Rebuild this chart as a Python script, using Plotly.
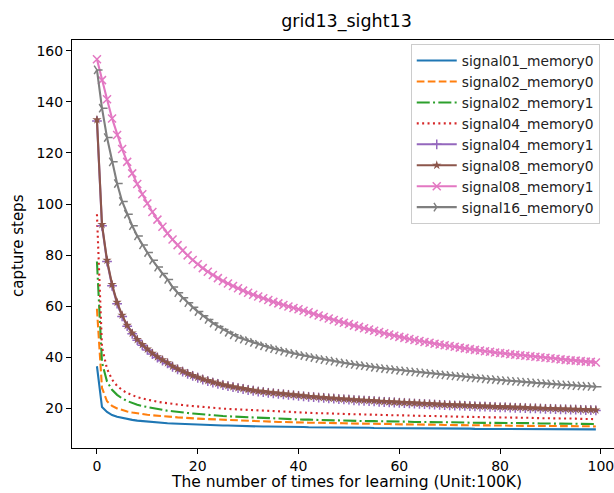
import plotly.graph_objects as go

steps = list(range(100))

series_names = ["signal01_memory0", "signal02_memory0", "signal02_memory1", "signal04_memory0",
                "signal04_memory1", "signal08_memory0", "signal08_memory1", "signal16_memory0"]

signal01_memory0 = [
    36.5, 20.5, 18.6, 17.4, 16.7, 16.2, 15.8, 15.5, 15.2, 15.0,
    14.8, 14.6, 14.5, 14.3, 14.2, 14.1, 14.0, 13.9, 13.8, 13.7,
    13.6, 13.6, 13.5, 13.4, 13.4, 13.3, 13.3, 13.2, 13.2, 13.1,
    13.1, 13.0, 13.0, 12.9, 12.9, 12.9, 12.8, 12.8, 12.8, 12.7,
    12.7, 12.7, 12.6, 12.6, 12.6, 12.6, 12.5, 12.5, 12.5, 12.5,
    12.4, 12.4, 12.4, 12.4, 12.4, 12.3, 12.3, 12.3, 12.3, 12.3,
    12.2, 12.2, 12.2, 12.2, 12.2, 12.2, 12.2, 12.1, 12.1, 12.1,
    12.1, 12.1, 12.1, 12.1, 12.1, 12.0, 12.0, 12.0, 12.0, 12.0,
    12.0, 12.0, 12.0, 12.0, 11.9, 11.9, 11.9, 11.9, 11.9, 11.9,
    11.9, 11.9, 11.9, 11.8, 11.8, 11.8, 11.8, 11.8, 11.8, 11.8]

signal02_memory0 = [
    59.0, 28.0, 22.8, 21.0, 20.0, 19.3, 18.8, 18.4, 18.0, 17.7,
    17.5, 17.3, 17.1, 16.9, 16.8, 16.6, 16.5, 16.4, 16.2, 16.1,
    16.0, 15.9, 15.8, 15.7, 15.6, 15.5, 15.4, 15.3, 15.2, 15.1,
    15.0, 15.0, 14.9, 14.9, 14.8, 14.8, 14.7, 14.7, 14.6, 14.6,
    14.5, 14.5, 14.4, 14.4, 14.4, 14.3, 14.3, 14.2, 14.2, 14.2,
    14.1, 14.1, 14.1, 14.0, 14.0, 14.0, 13.9, 13.9, 13.9, 13.8,
    13.8, 13.8, 13.7, 13.7, 13.7, 13.7, 13.6, 13.6, 13.6, 13.5,
    13.5, 13.5, 13.5, 13.4, 13.4, 13.4, 13.4, 13.3, 13.3, 13.3,
    13.3, 13.3, 13.2, 13.2, 13.2, 13.2, 13.2, 13.1, 13.1, 13.1,
    13.1, 13.1, 13.1, 13.0, 13.0, 13.0, 13.0, 13.0, 13.0, 12.9]

signal02_memory1 = [
    77.5, 38.0, 30.5, 27.3, 25.3, 23.9, 22.9, 22.1, 21.4, 20.9,
    20.5, 20.1, 19.7, 19.4, 19.1, 18.9, 18.6, 18.4, 18.2, 18.0,
    17.8, 17.6, 17.5, 17.3, 17.2, 17.0, 16.9, 16.8, 16.7, 16.6,
    16.5, 16.4, 16.3, 16.2, 16.1, 16.0, 16.0, 15.9, 15.8, 15.8,
    15.7, 15.6, 15.6, 15.5, 15.5, 15.4, 15.4, 15.3, 15.3, 15.2,
    15.2, 15.2, 15.1, 15.1, 15.0, 15.0, 15.0, 14.9, 14.9, 14.9,
    14.8, 14.8, 14.8, 14.7, 14.7, 14.7, 14.7, 14.6, 14.6, 14.6,
    14.5, 14.5, 14.5, 14.5, 14.4, 14.4, 14.4, 14.4, 14.3, 14.3,
    14.3, 14.3, 14.3, 14.2, 14.2, 14.2, 14.2, 14.2, 14.1, 14.1,
    14.1, 14.1, 14.1, 14.0, 14.0, 14.0, 14.0, 14.0, 13.9, 13.9]

signal04_memory0 = [
    96.0, 44.0, 35.5, 31.3, 28.8, 27.2, 26.0, 25.1, 24.4, 23.9,
    23.4, 23.0, 22.6, 22.3, 22.0, 21.7, 21.5, 21.3, 21.1, 20.9,
    20.7, 20.5, 20.4, 20.2, 20.1, 19.9, 19.8, 19.7, 19.6, 19.4,
    19.3, 19.2, 19.1, 19.0, 18.9, 18.8, 18.7, 18.6, 18.6, 18.5,
    18.4, 18.3, 18.3, 18.2, 18.1, 18.1, 18.0, 17.9, 17.9, 17.8,
    17.8, 17.7, 17.7, 17.6, 17.6, 17.5, 17.5, 17.4, 17.4, 17.3,
    17.3, 17.2, 17.2, 17.1, 17.1, 17.0, 17.0, 17.0, 16.9, 16.9,
    16.8, 16.8, 16.8, 16.7, 16.7, 16.6, 16.6, 16.6, 16.5, 16.5,
    16.5, 16.4, 16.4, 16.4, 16.3, 16.3, 16.3, 16.2, 16.2, 16.2,
    16.1, 16.1, 16.1, 16.0, 16.0, 16.0, 15.9, 15.9, 15.9, 15.8]

signal04_memory1 = [
    132.5, 91.5, 77.5, 68.0, 61.0, 56.0, 52.2, 49.2, 46.7, 44.7,
    42.9, 41.3, 39.9, 38.7, 37.6, 36.3, 35.3, 34.4, 33.5, 32.7,
    32.0, 31.3, 30.7, 30.1, 29.6, 29.1, 28.7, 28.3, 27.9, 27.6,
    27.2, 26.9, 26.6, 26.4, 26.1, 25.9, 25.7, 25.5, 25.3, 25.1,
    24.9, 24.7, 24.5, 24.4, 24.2, 24.1, 23.9, 23.8, 23.6, 23.5,
    23.4, 23.2, 23.1, 23.0, 22.9, 22.8, 22.6, 22.5, 22.4, 22.3,
    22.2, 22.1, 22.0, 21.9, 21.8, 21.7, 21.6, 21.5, 21.4, 21.3,
    21.2, 21.1, 21.1, 21.0, 20.9, 20.8, 20.7, 20.7, 20.6, 20.5,
    20.4, 20.4, 20.3, 20.2, 20.2, 20.1, 20.0, 20.0, 19.9, 19.8,
    19.8, 19.7, 19.6, 19.6, 19.5, 19.5, 19.4, 19.3, 19.3, 19.2]

signal08_memory0 = [
    133.0, 92.0, 78.0, 68.5, 61.5, 56.5, 52.5, 49.5, 47.0, 45.0,
    43.2, 41.6, 40.2, 39.0, 37.9, 36.5, 35.5, 34.6, 33.7, 32.9,
    32.2, 31.5, 30.9, 30.3, 29.8, 29.3, 28.9, 28.5, 28.1, 27.8,
    27.4, 27.1, 26.8, 26.6, 26.3, 26.1, 25.9, 25.7, 25.5, 25.3,
    25.1, 24.9, 24.7, 24.6, 24.4, 24.3, 24.1, 24.0, 23.8, 23.7,
    23.6, 23.4, 23.3, 23.2, 23.1, 23.0, 22.8, 22.7, 22.6, 22.5,
    22.4, 22.3, 22.2, 22.1, 22.0, 21.9, 21.8, 21.7, 21.6, 21.5,
    21.4, 21.3, 21.3, 21.2, 21.1, 21.0, 20.9, 20.9, 20.8, 20.7,
    20.6, 20.6, 20.5, 20.4, 20.4, 20.3, 20.2, 20.2, 20.1, 20.0,
    20.0, 19.9, 19.8, 19.8, 19.7, 19.7, 19.6, 19.5, 19.5, 19.4]

signal08_memory1 = [
    156.7, 148.5, 141.0, 133.5, 127.0, 121.5, 116.5, 112.0, 107.8, 103.8,
    100.2, 96.9, 93.9, 91.1, 88.5, 86.1, 83.9, 81.8, 79.9, 78.1,
    76.4, 74.9, 73.5, 72.2, 71.0, 69.9, 68.9, 67.9, 67.0, 66.1,
    65.3, 64.5, 63.8, 63.1, 62.4, 61.7, 61.1, 60.5, 59.9, 59.3,
    58.8, 58.2, 57.6, 57.0, 56.4, 55.8, 55.2, 54.6, 54.0, 53.5,
    53.0, 52.4, 51.9, 51.4, 50.9, 50.4, 49.9, 49.4, 48.9, 48.4,
    48.0, 47.6, 47.2, 46.8, 46.4, 46.0, 45.7, 45.3, 45.0, 44.7,
    44.4, 44.1, 43.8, 43.5, 43.2, 42.9, 42.7, 42.4, 42.2, 41.9,
    41.7, 41.5, 41.2, 41.0, 40.8, 40.6, 40.4, 40.2, 40.0, 39.8,
    39.6, 39.4, 39.2, 39.0, 38.8, 38.7, 38.5, 38.3, 38.2, 38.0]

signal16_memory0 = [
    152.5, 137.5, 126.0, 116.5, 108.0, 101.0, 96.0, 91.5, 87.5, 84.0,
    81.0, 78.0, 75.3, 72.8, 70.5, 67.5, 65.3, 63.3, 61.4, 59.6,
    57.9, 56.3, 54.8, 53.4, 52.1, 50.9, 49.8, 48.8, 47.8, 47.1,
    46.5, 45.8, 45.1, 44.5, 43.9, 43.4, 42.9, 42.4, 41.9, 41.5,
    41.1, 40.7, 40.3, 39.9, 39.5, 39.1, 38.8, 38.5, 38.1, 37.8,
    37.5, 37.2, 36.9, 36.7, 36.4, 36.1, 35.9, 35.6, 35.4, 35.2,
    34.9, 34.7, 34.5, 34.3, 34.1, 33.9, 33.7, 33.5, 33.3, 33.1,
    32.9, 32.7, 32.5, 32.3, 32.1, 31.9, 31.8, 31.6, 31.4, 31.3,
    31.1, 30.9, 30.8, 30.6, 30.5, 30.3, 30.2, 30.0, 29.9, 29.7,
    29.6, 29.5, 29.3, 29.2, 29.1, 28.9, 28.8, 28.7, 28.6, 28.5]

x_ticks = [0, 20, 40, 60, 80, 100]
y_ticks = [20, 40, 60, 80, 100, 120, 140, 160]

all_series = [signal01_memory0, signal02_memory0, signal02_memory1, signal04_memory0,
              signal04_memory1, signal08_memory0, signal08_memory1, signal16_memory0]

styles = [
    dict(color="#1f77b4", dash="solid", symbol=None),
    dict(color="#ff7f0e", dash="7.7px,3.3px", symbol=None),
    dict(color="#2ca02c", dash="13px,3.3px,2px,3.3px", symbol=None),
    dict(color="#d62728", dash="2px,3.4px", symbol=None),
    dict(color="#9467bd", dash="solid", symbol="cross-thin"),
    dict(color="#8c564b", dash="solid", symbol="star"),
    dict(color="#e377c2", dash="solid", symbol="x-thin"),
    dict(color="#7f7f7f", dash="solid", symbol="y-right"),
]

fig = go.Figure()
for name, vals, st in zip(series_names, all_series, styles):
    if st["symbol"] is None:
        fig.add_trace(go.Scatter(x=steps, y=vals, name=name, mode="lines",
                                 line=dict(color=st["color"], width=2.1, dash=st["dash"])))
    else:
        if st["symbol"] == "star":
            marker = dict(symbol="star", size=7, color=st["color"], line=dict(width=0))
        elif st["symbol"] == "x-thin":
            marker = dict(symbol="x-thin", size=8, color=st["color"],
                          line=dict(width=1.5, color=st["color"]))
        else:
            marker = dict(symbol=st["symbol"], size=7, color=st["color"],
                          line=dict(width=1.5, color=st["color"]))
        fig.add_trace(go.Scatter(x=steps, y=vals, name=name, mode="lines+markers",
                                 line=dict(color=st["color"], width=2.1, dash=st["dash"]),
                                 marker=marker))

font_family = "DejaVu Sans"
fig.update_layout(
    width=614, height=493, autosize=False,
    margin=dict(l=72, r=0, t=40, b=45, autoexpand=False),
    paper_bgcolor="white", plot_bgcolor="white",
    font=dict(family=font_family, size=14, color="black"),
    showlegend=True,
    legend=dict(x=0.625, xanchor="left", y=0.99, yanchor="top",
                bgcolor="rgba(255,255,255,0.8)", bordercolor="#cccccc", borderwidth=1,
                font=dict(family=font_family, size=13.8, color="#222"),
                tracegroupgap=0, itemwidth=40),
    title=dict(text="grid13_sight13", x=346.5/614, xref="container", xanchor="center",
               y=1 - 21/493, yref="container", yanchor="middle",
               font=dict(family=font_family, size=17.5, color="black")),
)
fig.update_xaxes(range=[-4.95, 102.6], tickvals=x_ticks, ticks="outside", ticklen=5,
                 tickwidth=1, tickcolor="black", showline=True, linecolor="black",
                 linewidth=1, mirror=True, showgrid=False, zeroline=False,
                 tickfont=dict(size=14), automargin=False, ticklabeloverflow="allow")
fig.update_yaxes(range=[4.5, 164.2], tickvals=y_ticks, ticks="outside", ticklen=5,
                 tickwidth=1, tickcolor="black", showline=True, linecolor="black",
                 linewidth=1, mirror=False, showgrid=False, zeroline=False,
                 tickfont=dict(size=14), automargin=False)
fig.add_annotation(text="The number of times for learning (Unit:100K)", xref="paper",
                   yref="paper", x=(346.5 - 72) / 542, y=-(482 - 448) / 408,
                   xanchor="center", yanchor="middle", showarrow=False,
                   font=dict(family=font_family, size=15.5, color="black"))
fig.add_annotation(text="capture steps", xref="paper", yref="paper",
                   x=-(72 - 18) / 542, y=1 - (246 - 40) / 408, textangle=-90,
                   xanchor="center", yanchor="middle", showarrow=False,
                   font=dict(family=font_family, size=15, color="black"))

fig.write_html("out.html", config={"displayModeBar": False},
               post_script="document.body.style.margin='0';document.body.style.padding='0';")
